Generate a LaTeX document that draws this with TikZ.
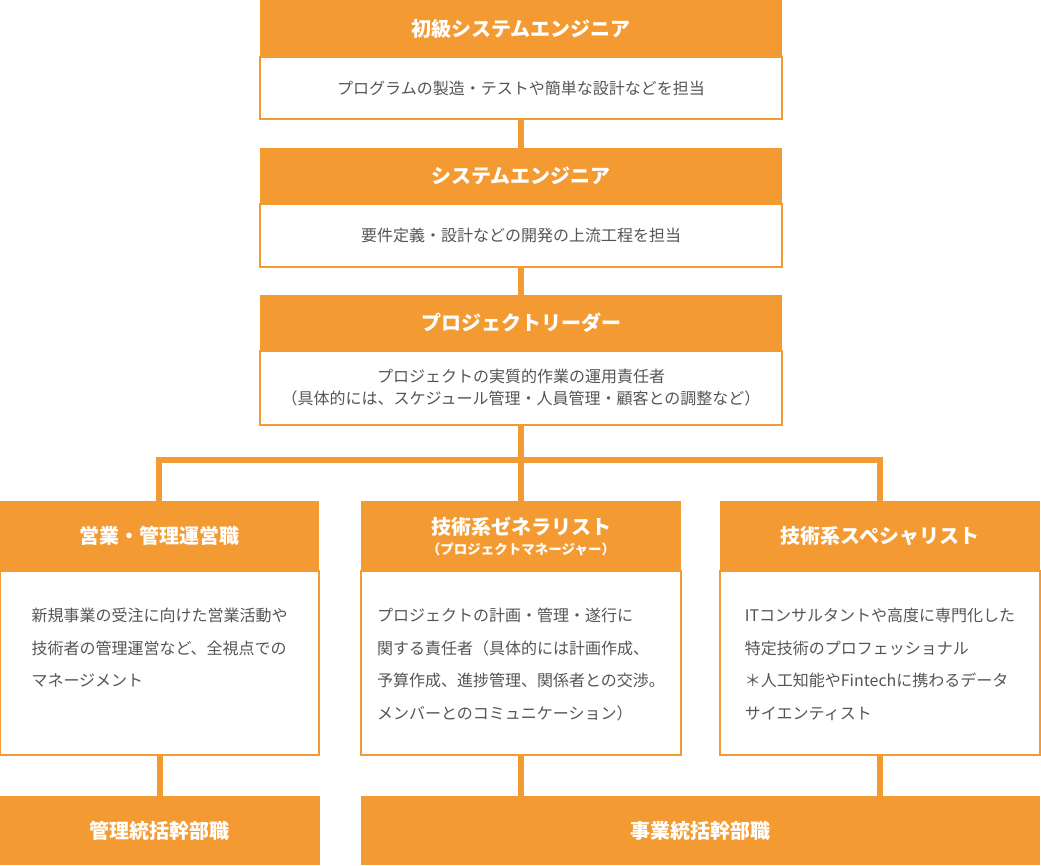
\documentclass[tikz,border=0pt]{standalone}
\usepackage{fontspec}
\setmainfont{Noto Sans CJK JP}
\usetikzlibrary{positioning}
\definecolor{careerorange}{HTML}{F39A32}
\definecolor{careertext}{HTML}{555555}

\begin{document}
\begin{tikzpicture}[
    x=1pt, y=-1pt,
    node distance=0pt,
    title/.style={rectangle, fill=careerorange, text=white, inner sep=0pt, outer sep=0pt, minimum width=522pt, minimum height=56pt, align=center, font=\bfseries\fontsize{20}{24}\selectfont},
    detail/.style={rectangle, draw=careerorange, line width=1.2pt, fill=white, text=careertext, inner sep=0pt, outer sep=0pt, minimum width=522pt, align=center, font=\fontsize{16}{22}\selectfont},
    note/.style={text=careertext, inner sep=0pt, align=left, font=\fontsize{16}{32.5}\selectfont},
    link/.style={draw=careerorange, line width=6pt}
]
\useasboundingbox (0,0) rectangle (1041,865);

% career path, top to bottom
\node[title, anchor=north west, minimum height=57pt] (h1) at (260,0) {初級システムエンジニア};
\node[detail, below=of h1, minimum height=62pt] (b1) {プログラムの製造・テストや簡単な設計などを担当};
\node[title, below=29pt of b1] (h2) {システムエンジニア};
\node[detail, below=of h2, minimum height=63pt] (b2) {要件定義・設計などの開発の上流工程を担当};
\node[title, below=28pt of b2] (h3) {プロジェクトリーダー};
\node[detail, below=of h3, minimum height=74pt] (b3) {プロジェクトの実質的作業の運用責任者\\（具体的には、スケジュール管理・人員管理・顧客との調整など）};

% three branches
\node[title, below=76pt of b3, minimum width=320pt, minimum height=70pt] (hM) {技術系ゼネラリスト\\[-4pt]{\fontsize{13.5}{15}\selectfont （プロジェクトマネージャー）}};
\node[title, left=42pt of hM, minimum width=320pt, minimum height=70pt] (hL) {営業・管理運営職};
\node[title, right=39pt of hM, minimum width=320pt, minimum height=70pt] (hR) {技術系スペシャリスト};
\node[detail, below=of hL, minimum width=319pt, minimum height=184pt, xshift=0.5pt] (bL) {};
\node[detail, below=of hM, minimum width=320pt, minimum height=184pt] (bM) {};
\node[detail, below=of hR, minimum width=320pt, minimum height=184pt] (bR) {};
\node[note, below=37pt of bL.north] (tL) {新規事業の受注に向けた営業活動や\\技術者の管理運営など、全視点での\\マネージメント};
\node[note, below=37pt of bM.north] (tM) {プロジェクトの計画・管理・遂行に\\関する責任者（具体的には計画作成、\\予算作成、進捗管理、関係者との交渉。\\メンバーとのコミュニケーション）};
\node[note, below=37pt of bR.north] (tR) {ITコンサルタントや高度に専門化した\\特定技術のプロフェッショナル\\＊人工知能やFintechに携わるデータ\\サイエンティスト};

% executive posts
\node[title, below=41pt of bL, minimum width=320pt, minimum height=69pt] (fL) {管理統括幹部職};
\node[title, anchor=north west, minimum width=679pt, minimum height=69pt] (fR) at (fL.north -| hM.west) {事業統括幹部職};

% connectors
\coordinate (bus) at (0,460);
\draw[link] (b1) -- (h2);
\draw[link] (b2) -- (h3);
\draw[link] (b3) -- (hM);
\draw[link] (hL.north) -- (hL.north |- bus) -- (hR.north |- bus) -- (hR.north);
\draw[link] (bL) -- (fL);
\draw[link] (bM.south) -- (bM.south |- fR.north);
\draw[link] (bR.south) -- (bR.south |- fR.north);
\end{tikzpicture}
\end{document}
